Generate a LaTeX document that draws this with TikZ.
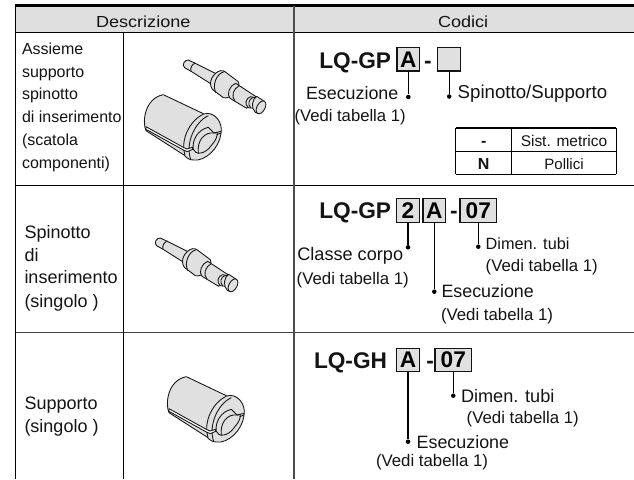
\documentclass[tikz,border=0pt]{standalone}
\usepackage{fontspec}
\setmainfont{Liberation Sans}
\definecolor{cellgrey}{HTML}{DFDFDF}
\definecolor{partgrey}{HTML}{E0E0E0}
\definecolor{inkc}{HTML}{141414}
\newcommand{\lbl}[5]{\node[lab,font=\fontsize{#4}{#4}\selectfont] (#1) at (#2,#3) {#5};}
\newcommand{\pinshape}{%
  \draw[part] (25,15) .. controls (14,14) and (4,30) .. (14,38) -- (35,50) -- (95,88) -- (112,58) -- (52,28) -- cycle;
  \draw[part,fill=none] (46,24) .. controls (36,28) and (30,38) .. (33,49);
  \draw[part] (122,47) .. controls (100,52) and (82,82) .. (97,103) -- (130,128) .. controls (150,135) and (185,100) .. (175,80) -- (135,50) .. controls (132,48) and (126,46) .. (122,47) -- cycle;
  \draw[part,fill=none] (133,50) .. controls (110,55) and (95,90) .. (108,114);
  \draw[part] (167,85) .. controls (150,90) and (138,118) .. (150,130) -- (200,160) -- (228,125) -- (178,92) -- cycle;
  \draw[part,fill=none] (178,92) .. controls (160,100) and (152,125) .. (165,138);
  \draw[part] (212,125) .. controls (198,128) and (192,148) .. (205,158) -- (222,160) -- (232,130) -- cycle;
  \draw[part,fill=none] (218,128) .. controls (207,132) and (202,148) .. (212,158);
  \draw[part] (230,124) .. controls (216,132) and (212,160) .. (226,172) -- (233,175) -- (253,139) -- cycle;
  \draw[part,rotate around={-29:(243,157)}] (243,157) ellipse (12 and 21);
}
\newcommand{\sleeveshape}{%
  \draw[part] (18,122) .. controls (6,95) and (14,25) .. (70,14) -- (192,72) .. controls (220,62) and (250,95) .. (243,130) .. controls (238,175) and (195,215) .. (160,210) .. controls (150,210) and (140,205) .. (132,195) -- cycle;
  \draw[part,fill=none] (190,73) .. controls (150,90) and (120,150) .. (135,195);
  \draw[part,fill=none] (205,77) .. controls (165,95) and (135,160) .. (152,208);
  \draw[part] (205,112) .. controls (175,118) and (155,150) .. (160,178) .. controls (165,195) and (195,195) .. (215,165) .. controls (228,150) and (232,140) .. (232,128) -- (222,129) -- cycle;
  \draw[part,fill=none] (222,129) .. controls (195,125) and (170,150) .. (175,190);
  \draw[part,fill=none] (222,129) -- (243,124);
  \draw[part,fill=none] (230,134) -- (243,129);
  \draw[part,fill=white] (18,110) -- (130,172) -- (141,177) -- (157,172) -- (158,178) -- (142,185) -- (130,180) -- (18,118) -- cycle;
}
\tikzset{
  lab/.style={anchor=base west,inner sep=0pt,outer sep=0pt,text=inkc},
  clab/.style={anchor=base,inner sep=0pt,outer sep=0pt,text=inkc},
  rule/.style={draw=black,line width=.75pt},
  part/.style={draw=inkc,fill=partgrey,line width=.65pt,line join=round},
  codebox/.style={draw=inkc,fill=partgrey,line width=.9pt,inner sep=0pt,minimum width=17pt,minimum height=17.5pt,font=\fontsize{17}{17}\bfseries\selectfont,text=black},
  widebox/.style={codebox,minimum width=27.5pt},
  dotn/.style={circle,fill=black,inner sep=0pt,minimum size=3.4pt},
  conn/.style={draw=black,line width=1pt},
  trace/.style={x=.25pt,y=-.25pt}
}
\begin{document}
\begin{tikzpicture}[x=0.75pt,y=-0.75pt]
\useasboundingbox (0,0) rectangle (634,479);
\fill[white] (0,0) rectangle (634,479);
\fill[cellgrey] (15.5,6) rectangle (634,32);
% table rules
\draw[rule,line width=1.6pt] (15,5.5) -- (634,5.5);
\draw[rule] (15.5,32) -- (634,32);
\draw[rule] (15.5,185) -- (634,185);
\draw[rule,draw=black!75] (15.5,332.5) -- (634,332.5);
\draw[rule] (15.5,5.5) -- (15.5,479);
\draw[rule] (123.5,32) -- (123.5,479);
\draw[rule,draw=black!70,line width=1pt] (294,5.5) -- (294,479);
% headers
\node[lab,font=\fontsize{12}{12}\selectfont] (hdesc) at (96,27) {\scalebox{1.13}[1]{Descrizione}};
\node[lab,font=\fontsize{12}{12}\selectfont] (hcod) at (438,27) {\scalebox{1.13}[1]{Codici}};
% left column
\lbl{a1}{22}{54}{12}{Assieme}
\lbl{a2}{22}{77}{12}{supporto}
\lbl{a3}{22}{99}{12}{spinotto}
\lbl{a4}{22}{122}{12}{di inserimento}
\lbl{a5}{22}{145}{12}{(scatola}
\lbl{a6}{22}{168}{12}{componenti)}
\lbl{b1}{24.5}{238}{13.5}{Spinotto}
\lbl{b2}{24.5}{261}{13.5}{di}
\lbl{b3}{24.5}{283.5}{13.5}{inserimento}
\lbl{b4}{24.5}{307}{13.5}{(singolo )}
\lbl{c1}{24.5}{409}{13.5}{Supporto}
\lbl{c2}{24.5}{432}{13.5}{(singolo )}
% parts
\begin{scope}[shift={(180,55)},trace]\pinshape\end{scope}
\begin{scope}[shift={(152,233)},trace]\pinshape\end{scope}
\begin{scope}[shift={(140,90)},trace]\sleeveshape\end{scope}
\begin{scope}[shift={(163,372)},trace]\sleeveshape\end{scope}
% row 1 code
\lbl{m1}{319.3}{68}{17}{\bfseries LQ-GP}
\node[codebox] (r1a) at (408.3,59.3) {A};
\lbl{r1d}{424}{68}{17}{\bfseries -}
\node[codebox] (r1b) at (449.2,59.3) {};
\node[dotn] (r1ad) at (408.3,97) {};
\node[dotn] (r1bd) at (449.2,96.5) {};
\draw[conn] (r1a) -- (r1ad);
\draw[conn] (r1b) -- (r1bd);
\lbl{t1}{306}{99.5}{13.4}{Esecuzione}
\lbl{t2}{294.5}{121.7}{12.5}{(Vedi tabella 1)}
\lbl{t3}{457.7}{98.7}{14}{Spinotto/Supporto}
% small table
\draw[rule,line width=1.3pt] (455.7,128.3) -- (616,128.3);
\draw[rule] (455.7,151.7) -- (616,151.7);
\draw[rule] (455.7,174) -- (616,174);
\draw[rule] (455.7,128) -- (455.7,174);
\draw[rule] (511.7,128) -- (511.7,174);
\draw[rule] (616,128) -- (616,174);
\node[clab,font=\fontsize{12}{12}\bfseries\selectfont] (s1) at (483.7,146) {-};
\node[clab,font=\fontsize{11.6}{12}\selectfont] (s2) at (564,146) {Sist. metrico};
\node[clab,font=\fontsize{12}{12}\bfseries\selectfont] (s3) at (483.7,169) {N};
\node[clab,font=\fontsize{11.3}{12}\selectfont] (s4) at (564,169) {Pollici};
% row 2 code
\lbl{m2}{319.3}{218.3}{17}{\bfseries LQ-GP}
\node[codebox] (r2a) at (408,210.5) {2};
\node[codebox] (r2b) at (434.3,210.5) {A};
\lbl{r2d}{450}{218.3}{17}{\bfseries -}
\node[widebox] (r2c) at (478.3,210.5) {07};
\node[dotn] (r2ad) at (408,247.3) {};
\node[dotn] (r2bd) at (434.3,291.7) {};
\node[dotn] (r2cd) at (478.3,246.7) {};
\draw[conn] (r2a) -- (r2ad);
\draw[conn] (r2b) -- (r2bd);
\draw[conn] (r2c) -- (r2cd);
\lbl{u1}{297.3}{260.7}{13.6}{Classe corpo}
\lbl{u2}{296.7}{284}{12.6}{(Vedi tabella 1)}
\lbl{u3}{441.5}{297.3}{13.4}{Esecuzione}
\lbl{u4}{441}{320.7}{12.6}{(Vedi tabella 1)}
\lbl{u5}{485.7}{249.3}{12.2}{Dimen. tubi}
\lbl{u6}{485.7}{271.7}{12.6}{(Vedi tabella 1)}
% row 3 code
\lbl{m3}{314}{368.3}{17}{\bfseries LQ-GH}
\node[codebox] (r3a) at (408,360) {A};
\lbl{r3d}{426.3}{368.3}{17}{\bfseries -}
\node[widebox] (r3c) at (453.3,360) {07};
\node[dotn] (r3ad) at (408,441.7) {};
\node[dotn] (r3cd) at (453.3,395.7) {};
\draw[conn] (r3a) -- (r3ad);
\draw[conn] (r3c) -- (r3cd);
\lbl{v1}{461}{402.7}{13.6}{Dimen. tubi}
\lbl{v2}{466.7}{423.3}{12.6}{(Vedi tabella 1)}
\lbl{v3}{416.7}{448.3}{13.4}{Esecuzione}
\lbl{v4}{376}{466.7}{12.6}{(Vedi tabella 1)}
\end{tikzpicture}
\end{document}
